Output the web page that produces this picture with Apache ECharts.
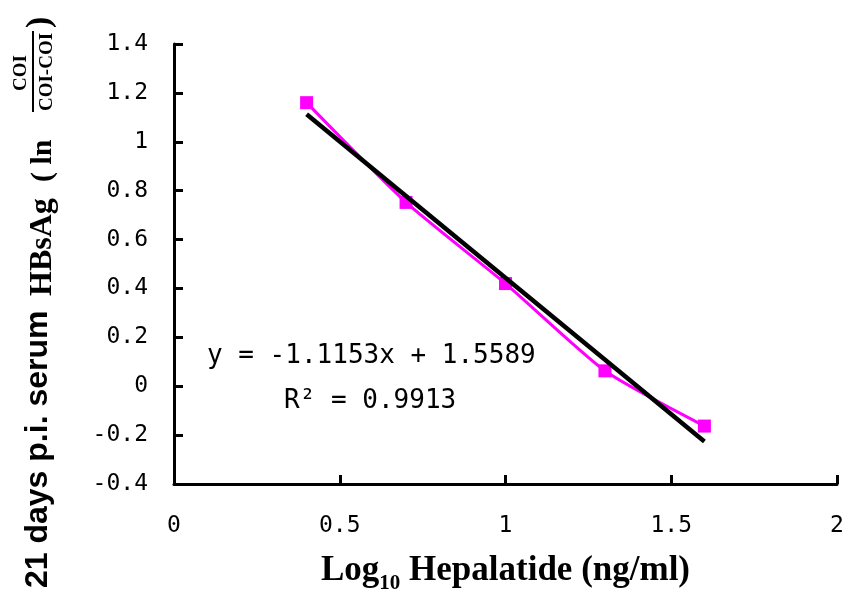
<!DOCTYPE html>
<html>
<head>
<meta charset="utf-8">
<script src="https://cdn.jsdelivr.net/npm/echarts@6/dist/echarts.min.js"></script>
<style>
  html, body { margin: 0; padding: 0; background: #fff; }
  #chart { width: 848px; height: 596px; }
</style>
</head>
<body>
<div id="chart"></div>
<script>
// 数据
const doseLog = [0.4, 0.7, 1.0, 1.3, 1.6]
const serumValue = [1.16, 0.752, 0.42, 0.063, -0.163]
// 趋势线两端 (y = -1.1153x + 1.5589)
const fitX = [0.4, 1.6]
const fitY = [1.113, -0.226]
const xTicks = [0, 0.5, 1, 1.5, 2]
const yTicks = [-0.4, -0.2, 0, 0.2, 0.4, 0.6, 0.8, 1, 1.2, 1.4]
const equationText = 'y = -1.1153x + 1.5589'
const r2Text = 'R² = 0.9913'

const monoFont = '"DejaVu Sans Mono", monospace'
const serifFont = '"Liberation Serif", "Times New Roman", serif'
const sansFont = '"Liberation Sans", Arial, sans-serif'

const chartInstance = echarts.init(document.getElementById('chart'))

const axisCommon = {
  axisLine: { onZero: false, lineStyle: { color: '#000', width: 3 } },
  axisTick: { inside: true, length: 9, lineStyle: { color: '#000', width: 3 } },
  splitLine: { show: false },
  axisLabel: { color: '#000', fontFamily: monoFont, fontSize: 23 }
}

const option = {
  animation: false,
  backgroundColor: '#fff',
  grid: { left: 174, right: 11, top: 44, bottom: 112, outerBoundsMode: 'none', containLabel: false },
  xAxis: Object.assign({}, axisCommon, {
    type: 'value',
    min: xTicks[0],
    max: xTicks[xTicks.length - 1],
    interval: 0.5,
    axisLabel: Object.assign({}, axisCommon.axisLabel, { margin: 31 }),
    name: '{a|Log}{s|10}{a| Hepalatide (ng/ml)}',
    nameLocation: 'middle',
    nameGap: 69,
    nameTextStyle: {
      rich: {
        a: { fontFamily: serifFont, fontWeight: 'bold', fontSize: 35, lineHeight: 40, verticalAlign: 'top', color: '#000' },
        s: { fontFamily: serifFont, fontWeight: 'bold', fontSize: 21, lineHeight: 20, verticalAlign: 'bottom', padding: [30, 0, 0, 0], color: '#000' }
      }
    }
  }),
  yAxis: Object.assign({}, axisCommon, {
    type: 'value',
    min: yTicks[0],
    max: yTicks[yTicks.length - 1],
    interval: 0.2,
    axisLabel: Object.assign({}, axisCommon.axisLabel, { margin: 26 })
  }),
  series: [
    {
      name: 'data',
      type: 'line',
      data: doseLog.map((x, i) => [x, serumValue[i]]),
      smooth: 0.2,
      symbol: 'rect',
      symbolSize: 13,
      lineStyle: { color: '#ff00ff', width: 3 },
      itemStyle: { color: '#ff00ff' },
      z: 2
    },
    {
      name: 'fit',
      type: 'line',
      data: fitX.map((x, i) => [x, fitY[i]]),
      showSymbol: false,
      lineStyle: { color: '#000', width: 4.5 },
      z: 3
    }
  ],
  graphic: [
    {
      type: 'text',
      left: 207,
      top: 343,
      style: { text: equationText, fontFamily: monoFont, fontSize: 26, fill: '#000' }
    },
    {
      type: 'text',
      left: 284,
      top: 388,
      style: { text: r2Text, fontFamily: monoFont, fontSize: 26, fill: '#000' }
    },
    {
      // 纵轴标题 (旋转)
      type: 'group',
      x: 38,
      y: 588,
      rotation: Math.PI / 2,
      children: [
        { type: 'text', x: 0, y: 0, style: { text: '21 days p.i. serum', fontFamily: sansFont, fontWeight: 'bold', fontSize: 32, fill: '#000', verticalAlign: 'middle' } },
        { type: 'text', x: 292, y: 5, style: { text: 'HBsAg', fontFamily: serifFont, fontWeight: 'bold', fontSize: 32, fill: '#000', verticalAlign: 'middle' } },
        { type: 'text', x: 406, y: 5, style: { text: '( ln', fontFamily: serifFont, fontWeight: 'bold', fontSize: 30, fill: '#000', verticalAlign: 'middle' } },
        { type: 'text', x: 515, y: -17, style: { text: 'COI', fontFamily: serifFont, fontWeight: 'bold', fontSize: 19, fill: '#000', align: 'center', verticalAlign: 'middle' } },
        { type: 'line', shape: { x1: 476, y1: -5, x2: 557, y2: -5 }, style: { stroke: '#000', lineWidth: 2 } },
        { type: 'text', x: 516, y: 9, style: { text: 'COI-COI', fontFamily: serifFont, fontWeight: 'bold', fontSize: 19, fill: '#000', align: 'center', verticalAlign: 'middle' } },
        { type: 'text', x: 560, y: 2, style: { text: ')', fontFamily: serifFont, fontWeight: 'bold', fontSize: 34, fill: '#000', verticalAlign: 'middle' } }
      ]
    }
  ]
}

chartInstance.setOption(option)
</script>
</body>
</html>
